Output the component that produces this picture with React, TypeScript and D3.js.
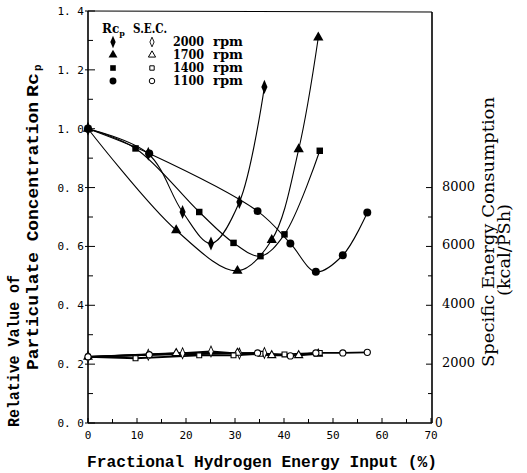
import React from 'react';
import * as d3 from 'd3';

const W = 527, H = 473;
const X0 = 88, X1 = 431, Y0 = 423, Y1 = 11;

// ---- data ----
const rpmLabels = ['2000', '1700', '1400', '1100'];

const x2000 = [0, 12.3, 19.3, 25.1, 30.9, 36];
const rcp2000 = [1.0, 0.915, 0.717, 0.61, 0.751, 1.142];
const sec2000 = [2250, 2320, 2370, 2430, 2360, 2380];

const x1700 = [0, 18, 30.5, 37.5, 43, 47];
const rcp1700 = [1.0, 0.655, 0.517, 0.622, 0.93, 1.31];
const sec1700 = [2250, 2370, 2380, 2300, 2300, 2350];

const x1400 = [0, 9.7, 22.7, 29.7, 35.2, 40.1, 47.3];
const rcp1400 = [1.0, 0.933, 0.717, 0.612, 0.567, 0.641, 0.925];
const sec1400 = [2250, 2200, 2300, 2300, 2350, 2330, 2380];

const x1100 = [0, 12.5, 34.6, 41.3, 46.5, 52, 57];
const rcp1100 = [1.0, 0.916, 0.72, 0.61, 0.514, 0.57, 0.715];
const sec1100 = [2250, 2320, 2380, 2280, 2380, 2380, 2400];

const xMajorTicks = [0, 10, 20, 30, 40, 50, 60, 70];
const xTickLabels = ['0', '10', '20', '30', '40', '50', '60', '70'];
const xMinorTicks = [5, 15, 25, 35, 45, 55, 65];
const yMajorTicks = [0, 0.2, 0.4, 0.6, 0.8, 1.0, 1.2, 1.4];
const yTickLabels = ['0. 0', '0. 2', '0. 4', '0. 6', '0. 8', '1. 0', '1. 2', '1. 4'];
const yMinorTicks = [0.1, 0.3, 0.5, 0.7, 0.9, 1.1, 1.3];
const rMajorTicks = [0, 2000, 4000, 6000, 8000];
const rTickLabels = ['0', '2000', '4000', '6000', '8000'];
const rMinorTicks = [1000, 3000, 5000, 7000];

const x = d3.scaleLinear().domain([0, 70]).range([X0, X1]);
const y = d3.scaleLinear().domain([0, 1.4]).range([Y0, Y1]);
const yr = d3.scaleLinear().domain([0, 14000]).range([Y0, Y1]);

const seriesDefs = [
  { xs: x2000, rcp: rcp2000, sec: sec2000, sym: d3.symbolDiamond, sx: 0.75 },
  { xs: x1700, rcp: rcp1700, sec: sec1700, sym: d3.symbolTriangle, sx: 1 },
  { xs: x1400, rcp: rcp1400, sec: sec1400, sym: d3.symbolSquare, sx: 1 },
  { xs: x1100, rcp: rcp1100, sec: sec1100, sym: d3.symbolCircle, sx: 1 },
];

const curve = d3.line<[number, number]>().curve(d3.curveCatmullRom.alpha(0.5));
const straight = d3.line<[number, number]>();

const tickFont = '"DejaVu Sans Mono", monospace';
const titleFont = '"Liberation Mono", monospace';
const serif = '"DejaVu Serif", serif';

export default function App() {
  const filledSize = [58, 46, 42, 50];
  const openSize = [34, 28, 24, 30];
  return (
    <svg width={W} height={H} style={{ display: 'block', position: 'absolute', left: 0, top: 0, background: '#fff' }}>
      <rect width={W} height={H} fill="#fff" />
      {/* frame */}
      <line x1={X0} y1={Y0} x2={X1 + 1} y2={Y0} stroke="#000" strokeWidth={1.6} />
      <line x1={X0} y1={Y0} x2={X0} y2={Y1} stroke="#000" strokeWidth={1.6} />
      <line x1={X0} y1={Y1} x2={X1 + 1} y2={Y1 + 1} stroke="#000" strokeWidth={1.2} />
      <line x1={X1 + 1} y1={Y0} x2={X1 + 1} y2={Y1 + 1} stroke="#000" strokeWidth={1.6} />

      {/* x ticks */}
      {xMajorTicks.map((t, i) => (
        <g key={'xt' + i}>
          <line x1={x(t)} x2={x(t)} y1={Y0} y2={Y0 - 5} stroke="#000" strokeWidth={1} />
          <text x={x(t)} y={439} textAnchor="middle" fontFamily={tickFont} fontSize={11}>{xTickLabels[i]}</text>
        </g>
      ))}
      {xMinorTicks.map((t, i) => (
        <line key={'xm' + i} x1={x(t)} x2={x(t)} y1={Y0} y2={Y0 - 4} stroke="#000" strokeWidth={1} />
      ))}

      {/* left y ticks */}
      {yMajorTicks.map((t, i) => (
        <g key={'yt' + i}>
          <line x1={X0 - 3} x2={X0 + 7} y1={y(t)} y2={y(t)} stroke="#000" strokeWidth={1} />
          <text x={84} y={y(t) + 4} textAnchor="end" fontFamily={tickFont} fontSize={11}>{yTickLabels[i]}</text>
        </g>
      ))}
      {yMinorTicks.map((t, i) => (
        <line key={'ym' + i} x1={X0} x2={X0 + 5} y1={y(t)} y2={y(t)} stroke="#000" strokeWidth={1} />
      ))}

      {/* right y ticks */}
      {rMajorTicks.map((t, i) => (
        <g key={'rt' + i}>
          {t > 0 && <line x1={X1 + 1 - 6} x2={X1 + 1} y1={yr(t)} y2={yr(t)} stroke="#000" strokeWidth={1} />}
          {t > 0 ? (
            <text x={442} y={yr(t) + 3} fontFamily={serif} fontSize={13} textLength={33} lengthAdjust="spacingAndGlyphs">{rTickLabels[i]}</text>
          ) : (
            <text x={435} y={427} fontFamily={serif} fontSize={12}>{rTickLabels[i]}</text>
          )}
        </g>
      ))}
      {rMinorTicks.map((t, i) => (
        <line key={'rm' + i} x1={X1 + 1 - 4} x2={X1 + 1} y1={yr(t)} y2={yr(t)} stroke="#000" strokeWidth={1} />
      ))}

      {/* Rcp curves */}
      {seriesDefs.map((s, i) => (
        <path key={'rc' + i} d={curve(s.xs.map((v, j) => [x(v), y(s.rcp[j])] as [number, number])) || ''}
          fill="none" stroke="#000" strokeWidth={1.1} />
      ))}
      {/* SEC lines */}
      {seriesDefs.map((s, i) => (
        <path key={'sl' + i} d={straight(s.xs.map((v, j) => [x(v), yr(s.sec[j])] as [number, number])) || ''}
          fill="none" stroke="#000" strokeWidth={1.8} />
      ))}
      {/* Rcp markers (filled) */}
      {seriesDefs.map((s, i) =>
        s.xs.map((v, j) => (
          <path key={'rm' + i + '-' + j}
            transform={`translate(${x(v)},${y(s.rcp[j])}) scale(${s.sx},1)`}
            d={d3.symbol().type(s.sym).size(filledSize[i])() || ''} fill="#000" />
        ))
      )}
      {/* SEC markers (open) */}
      {seriesDefs.map((s, i) =>
        s.xs.map((v, j) => (
          <path key={'sm' + i + '-' + j}
            transform={`translate(${x(v)},${yr(s.sec[j])}) scale(${s.sx},1)`}
            d={d3.symbol().type(s.sym).size(openSize[i])() || ''} fill="#fff" stroke="#000" strokeWidth={1.1} />
        ))
      )}

      {/* legend */}
      <text x={102} y={33} fontFamily={serif} fontWeight="bold" fontSize={12}>Rc<tspan fontSize={8} dy={3}>p</tspan></text>
      <text x={133} y={33} fontFamily={serif} fontWeight="bold" fontSize={12} textLength={34} lengthAdjust="spacingAndGlyphs">S.E.C.</text>
      {rpmLabels.map((r, i) => {
        const by = 46 + i * 13;
        const s = seriesDefs[i];
        return (
          <g key={'lg' + i}>
            <path transform={`translate(113,${by - 4}) scale(${s.sx},1)`} d={d3.symbol().type(s.sym).size(filledSize[i] * 0.75)() || ''} fill="#000" />
            <path transform={`translate(152,${by - 4}) scale(${s.sx},1)`} d={d3.symbol().type(s.sym).size(openSize[i] * 0.8)() || ''} fill="#fff" stroke="#000" strokeWidth={1} />
            <text x={173} y={by} fontFamily={serif} fontWeight="bold" fontSize={12} textLength={31} lengthAdjust="spacingAndGlyphs">{r}</text>
            <text x={213} y={by} fontFamily={serif} fontWeight="bold" fontSize={12} textLength={30} lengthAdjust="spacingAndGlyphs">rpm</text>
          </g>
        );
      })}

      {/* axis titles */}
      <text x={87} y={467} fontFamily={titleFont} fontWeight="bold" fontSize={16} textLength={350} lengthAdjust="spacingAndGlyphs">Fractional Hydrogen Energy Input (%)</text>
      <text transform="translate(19,427) rotate(-90)" fontFamily={titleFont} fontWeight="bold" fontSize={16} textLength={152} lengthAdjust="spacingAndGlyphs">Relative Value of</text>
      <text transform="translate(38,370) rotate(-90)" fontFamily={titleFont} fontWeight="bold" fontSize={16} textLength={268} lengthAdjust="spacingAndGlyphs">Particulate Concentration</text>
      <text transform="translate(38,97) rotate(-90)" fontFamily={titleFont} fontWeight="bold" fontSize={16} textLength={24} lengthAdjust="spacingAndGlyphs">Rc</text>
      <text transform="translate(41,71) rotate(-90)" fontFamily={titleFont} fontWeight="bold" fontSize={11}>p</text>
      <text transform="translate(494,367) rotate(-90)" fontFamily={serif} fontSize={16} textLength={270} lengthAdjust="spacingAndGlyphs">Specific Energy Consumption</text>
      <text transform="translate(510,296) rotate(-90)" fontFamily={serif} fontSize={16} textLength={92} lengthAdjust="spacingAndGlyphs">(kcal/PSh)</text>
    </svg>
  );
}
